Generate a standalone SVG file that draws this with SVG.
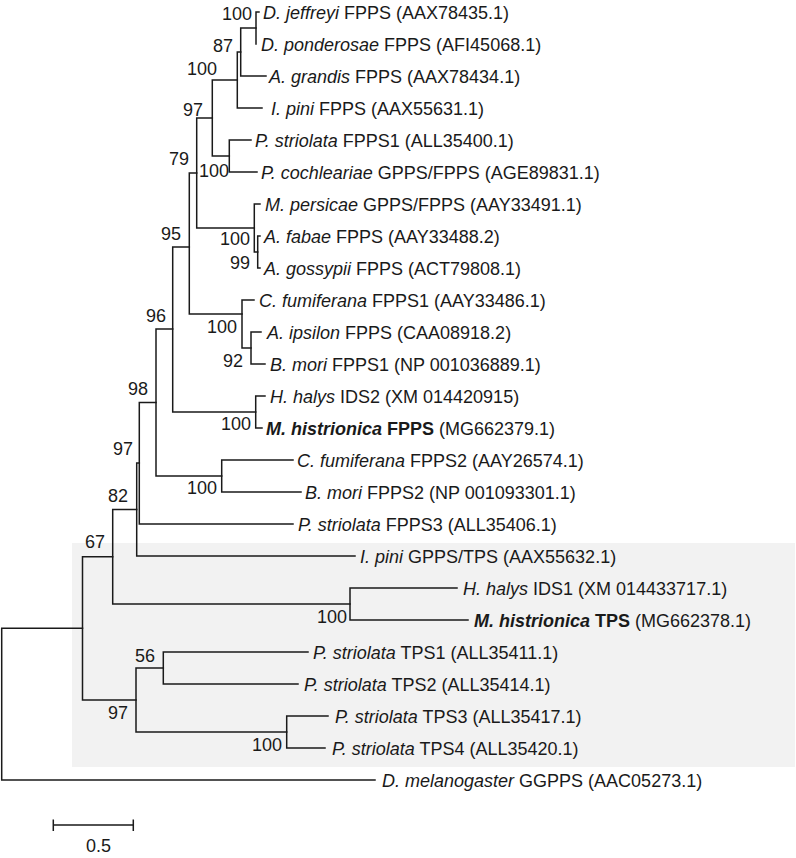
<svg xmlns="http://www.w3.org/2000/svg" width="796" height="858" viewBox="0 0 796 858">
<style>
text{font-family:"Liberation Sans",Arial,sans-serif;font-size:18px;fill:#1a1a1a}
.i{font-style:italic}
.b{font-weight:bold}
.bs{text-anchor:end}
.br{fill:none;stroke:#1a1a1a;stroke-width:1.5;stroke-linecap:square}
</style>
<rect id="tps-clade-bg" x="72" y="543" width="723" height="224" fill="#f2f2f2"/>
<g id="connectors" class="br">
<path d="M256,12V44M256,12H259"/>
<path d="M240.7,28V76M240.7,28H256M240.7,76H266"/>
<path d="M237.3,52V108M237.3,52H240.7M237.3,108H262"/>
<path d="M229.3,140V172M229.3,140H251M229.3,172H257"/>
<path d="M212.3,80V156M212.3,80H237.3M212.3,156H229.3"/>
<path d="M257.7,236V268M257.7,236H260M257.7,268H260"/>
<path d="M254.3,204V252M254.3,204H260M254.3,252H257.7"/>
<path d="M196.7,118V228M196.7,118H212.3M196.7,228H254.3"/>
<path d="M251,332V364M251,332H261M251,364H265"/>
<path d="M242,300V348M242,300H254M242,348H251"/>
<path d="M189.3,173V314M189.3,173H196.7M189.3,314H242"/>
<path d="M255.7,396V428M255.7,396H265M255.7,428H262"/>
<path d="M172.7,247V412M172.7,247H189.3M172.7,412H255.7"/>
<path d="M221.7,460V492M221.7,460H293M221.7,492H301"/>
<path d="M156,329V476M156,329H172.7M156,476H221.7"/>
<path d="M139.3,402.5V524M139.3,402.5H156M139.3,524H293"/>
<path d="M136.7,463V556M136.7,463H139.3M136.7,556H355"/>
<path d="M350,588V620M350,588H457M350,620H468"/>
<path d="M112.7,509.5V604M112.7,509.5H136.7M112.7,604H350"/>
<path d="M163.3,652V684M163.3,652H308M163.3,684H298"/>
<path d="M286.7,716V748M286.7,716H328M286.7,748H325"/>
<path d="M136,668V732M136,668H163.3M136,732H286.7"/>
<path d="M82.5,556.7V700M82.5,556.7H112.7M82.5,700H136"/>
<path d="M1.7,628.3V780M1.7,628.3H82.5M1.7,780H375"/>
</g>
<g id="leaves">
<g id="leaf-djeffreyi"><text x="263" y="19"><tspan class="i">D. jeffreyi</tspan> FPPS (AAX78435.1)</text></g>
<g id="leaf-dponderosae"><text x="261" y="51"><tspan class="i">D. ponderosae</tspan> FPPS (AFI45068.1)</text></g>
<g id="leaf-agrandis"><text x="269" y="83"><tspan class="i">A. grandis</tspan> FPPS (AAX78434.1)</text></g>
<g id="leaf-ipini-fpps"><text x="271" y="115"><tspan class="i">I. pini</tspan> FPPS (AAX55631.1)</text></g>
<g id="leaf-pstriolata-fpps1"><text x="255" y="147"><tspan class="i">P. striolata</tspan> FPPS1 (ALL35400.1)</text></g>
<g id="leaf-pcochleariae"><text x="261" y="179"><tspan class="i">P. cochleariae</tspan> GPPS/FPPS (AGE89831.1)</text></g>
<g id="leaf-mpersicae"><text x="265" y="211"><tspan class="i">M. persicae</tspan> GPPS/FPPS (AAY33491.1)</text></g>
<g id="leaf-afabae"><text x="264" y="243"><tspan class="i">A. fabae</tspan> FPPS (AAY33488.2)</text></g>
<g id="leaf-agossypii"><text x="264" y="275"><tspan class="i">A. gossypii</tspan> FPPS (ACT79808.1)</text></g>
<g id="leaf-cfumiferana-fpps1"><text x="259" y="307"><tspan class="i">C. fumiferana</tspan> FPPS1 (AAY33486.1)</text></g>
<g id="leaf-aipsilon"><text x="267" y="339"><tspan class="i">A. ipsilon</tspan> FPPS (CAA08918.2)</text></g>
<g id="leaf-bmori-fpps1"><text x="270" y="371"><tspan class="i">B. mori</tspan> FPPS1 (NP 001036889.1)</text></g>
<g id="leaf-hhalys-ids2"><text x="270" y="403"><tspan class="i">H. halys</tspan> IDS2 (XM 014420915)</text></g>
<g id="leaf-mhistrionica-fpps"><text x="266" y="435"><tspan class="i b">M. histrionica</tspan><tspan class="b"> FPPS</tspan> (MG662379.1)</text></g>
<g id="leaf-cfumiferana-fpps2"><text x="297" y="467"><tspan class="i">C. fumiferana</tspan> FPPS2 (AAY26574.1)</text></g>
<g id="leaf-bmori-fpps2"><text x="305" y="499"><tspan class="i">B. mori</tspan> FPPS2 (NP 001093301.1)</text></g>
<g id="leaf-pstriolata-fpps3"><text x="298" y="531"><tspan class="i">P. striolata</tspan> FPPS3 (ALL35406.1)</text></g>
<g id="leaf-ipini-gpps"><text x="360" y="563"><tspan class="i">I. pini</tspan> GPPS/TPS (AAX55632.1)</text></g>
<g id="leaf-hhalys-ids1"><text x="463" y="595"><tspan class="i">H. halys</tspan> IDS1 (XM 014433717.1)</text></g>
<g id="leaf-mhistrionica-tps"><text x="474" y="627"><tspan class="i b">M. histrionica</tspan><tspan class="b"> TPS</tspan> (MG662378.1)</text></g>
<g id="leaf-pstriolata-tps1"><text x="313" y="659"><tspan class="i">P. striolata</tspan> TPS1 (ALL35411.1)</text></g>
<g id="leaf-pstriolata-tps2"><text x="304" y="691"><tspan class="i">P. striolata</tspan> TPS2 (ALL35414.1)</text></g>
<g id="leaf-pstriolata-tps3"><text x="335" y="723"><tspan class="i">P. striolata</tspan> TPS3 (ALL35417.1)</text></g>
<g id="leaf-pstriolata-tps4"><text x="332" y="755"><tspan class="i">P. striolata</tspan> TPS4 (ALL35420.1)</text></g>
<g id="leaf-dmelanogaster"><text x="382" y="787"><tspan class="i">D. melanogaster</tspan> GGPPS (AAC05273.1)</text></g>
</g>
<g id="bootstrap">
<g id="bs-1"><text class="bs" x="252" y="19.5">100</text></g>
<g id="bs-2"><text class="bs" x="233" y="51.5">87</text></g>
<g id="bs-3"><text class="bs" x="217" y="74.5">100</text></g>
<g id="bs-4"><text class="bs" x="203" y="116">97</text></g>
<g id="bs-5"><text class="bs" x="189" y="165">79</text></g>
<g id="bs-6"><text class="bs" x="229" y="176.5">100</text></g>
<g id="bs-7"><text class="bs" x="181" y="240">95</text></g>
<g id="bs-8"><text class="bs" x="250" y="245">100</text></g>
<g id="bs-9"><text class="bs" x="250" y="269">99</text></g>
<g id="bs-10"><text class="bs" x="166" y="322">96</text></g>
<g id="bs-11"><text class="bs" x="237" y="333">100</text></g>
<g id="bs-12"><text class="bs" x="243" y="367">92</text></g>
<g id="bs-13"><text class="bs" x="148" y="395">98</text></g>
<g id="bs-14"><text class="bs" x="251" y="430">100</text></g>
<g id="bs-15"><text class="bs" x="133" y="455">97</text></g>
<g id="bs-16"><text class="bs" x="217" y="494">100</text></g>
<g id="bs-17"><text class="bs" x="128" y="502">82</text></g>
<g id="bs-18"><text class="bs" x="105" y="548">67</text></g>
<g id="bs-19"><text class="bs" x="347" y="623">100</text></g>
<g id="bs-20"><text class="bs" x="155" y="662">56</text></g>
<g id="bs-21"><text class="bs" x="128" y="719">97</text></g>
<g id="bs-22"><text class="bs" x="282" y="751">100</text></g>
</g>
<g id="scale-bar">
<path class="br" d="M53.3,825H133.3M53.3,819.5V831M133.3,819.5V831" style="stroke-linecap:butt"/>
<text x="86" y="851.5">0.5</text>
</g>
</svg>
